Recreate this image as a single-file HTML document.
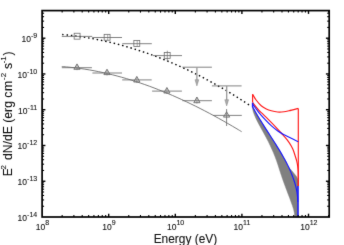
<!DOCTYPE html><html><head><meta charset="utf-8"><style>html,body{margin:0;padding:0;background:#fff;}body{width:344px;height:245px;overflow:hidden;position:relative;font-family:"Liberation Sans",sans-serif;}svg text{font-family:"Liberation Sans",sans-serif;}</style></head><body><svg width="344" height="245" viewBox="0 0 344 245" style="position:absolute;left:0;top:0;">
<rect x="0" y="0" width="344" height="245" fill="#fff"/>
<defs><filter id="b1" x="0" y="0" width="344" height="245" filterUnits="userSpaceOnUse" color-interpolation-filters="sRGB"><feConvolveMatrix order="3" kernelMatrix="0.01 0.065 0.01 0.065 0.7 0.065 0.01 0.065 0.01" divisor="1" edgeMode="duplicate" preserveAlpha="false"/></filter></defs><g filter="url(#b1)">
<rect x="0" y="0" width="344" height="245" fill="#fff"/>
<path d="M252.4,107.6 L253.2,111.4 L254.5,115.1 L256.2,118.9 L258.1,122.7 L260.1,126.4 L262.2,130.2 L264.3,134.0 L266.3,137.7 L268.3,141.5 L270.1,145.3 L271.8,149.0 L273.5,152.8 L275.0,156.6 L276.4,160.3 L277.7,164.1 L278.9,167.8 L280.1,171.6 L281.4,175.4 L282.6,179.1 L284.0,182.9 L285.4,186.7 L286.8,190.4 L288.2,194.2 L289.7,198.0 L291.0,201.7 L292.4,205.5 L293.6,209.3 L294.4,213.0 L294.8,216.8 L298.1,216.8 L298.1,180.0 L296.5,176.5 L292.0,171.0 L288.0,166.6 L286.4,162.5 L284.6,159.2 L282.8,155.9 L280.8,152.7 L278.9,149.4 L276.8,146.1 L274.8,142.8 L272.7,139.5 L270.6,136.2 L268.4,132.9 L266.3,129.6 L264.2,126.3 L262.1,123.0 L260.1,119.8 L258.1,116.5 L256.2,113.2 L254.3,109.9 L252.5,106.6Z" fill="#808080" stroke="#808080" stroke-width="0.5"/>
<path d="M61.80,66.54 C62.57,66.60 64.87,66.78 66.41,66.91 C67.95,67.05 69.48,67.20 71.02,67.36 C72.56,67.52 74.09,67.70 75.63,67.89 C77.17,68.07 78.70,68.28 80.24,68.49 C81.78,68.70 83.31,68.93 84.85,69.17 C86.39,69.41 87.92,69.66 89.46,69.92 C91.00,70.19 92.54,70.46 94.07,70.75 C95.61,71.04 97.15,71.34 98.68,71.66 C100.22,71.97 101.76,72.29 103.29,72.63 C104.83,72.97 106.37,73.32 107.90,73.68 C109.44,74.04 110.98,74.41 112.51,74.80 C114.05,75.18 115.59,75.58 117.12,75.99 C118.66,76.39 120.20,76.81 121.73,77.25 C123.27,77.68 124.81,78.12 126.34,78.57 C127.88,79.03 129.42,79.49 130.95,79.97 C132.49,80.44 134.03,80.93 135.56,81.43 C137.10,81.93 138.64,82.44 140.17,82.96 C141.71,83.48 143.25,84.01 144.78,84.55 C146.32,85.10 147.86,85.65 149.39,86.21 C150.93,86.78 152.47,87.35 154.01,87.93 C155.54,88.52 157.08,89.11 158.62,89.72 C160.15,90.32 161.69,90.94 163.23,91.57 C164.76,92.19 166.30,92.83 167.84,93.48 C169.37,94.12 170.91,94.78 172.45,95.44 C173.98,96.11 175.52,96.79 177.06,97.47 C178.59,98.16 180.13,98.85 181.67,99.56 C183.20,100.26 184.74,100.98 186.28,101.70 C187.81,102.43 189.35,103.16 190.89,103.91 C192.42,104.65 193.96,105.40 195.50,106.17 C197.03,106.93 198.57,107.70 200.11,108.48 C201.64,109.26 203.18,110.05 204.72,110.85 C206.25,111.65 207.79,112.45 209.33,113.27 C210.86,114.09 212.40,114.91 213.94,115.74 C215.48,116.58 217.01,117.42 218.55,118.27 C220.09,119.12 221.62,119.98 223.16,120.85 C224.70,121.72 226.23,122.59 227.77,123.48 C229.31,124.36 230.84,125.26 232.38,126.16 C233.92,127.06 235.45,127.97 236.99,128.88 C238.53,129.80 240.83,131.20 241.60,131.66" fill="none" stroke="#6a6a6a" stroke-width="0.9"/>
<path d="M62.20,34.49 C63.00,34.57 65.40,34.79 67.00,34.96 C68.60,35.13 70.20,35.31 71.79,35.50 C73.39,35.69 74.99,35.89 76.59,36.11 C78.19,36.32 79.79,36.55 81.39,36.79 C82.99,37.03 84.59,37.28 86.19,37.54 C87.79,37.80 89.39,38.08 90.98,38.36 C92.58,38.65 94.18,38.95 95.78,39.26 C97.38,39.56 98.98,39.89 100.58,40.22 C102.18,40.55 103.78,40.90 105.38,41.25 C106.98,41.61 108.58,41.98 110.17,42.36 C111.77,42.74 113.37,43.13 114.97,43.53 C116.57,43.93 118.17,44.35 119.77,44.78 C121.37,45.20 122.97,45.64 124.57,46.09 C126.17,46.54 127.76,47.01 129.36,47.48 C130.96,47.95 132.56,48.44 134.16,48.94 C135.76,49.43 137.36,49.94 138.96,50.46 C140.56,50.99 142.16,51.52 143.76,52.06 C145.36,52.61 146.95,53.16 148.55,53.73 C150.15,54.30 151.75,54.88 153.35,55.47 C154.95,56.06 156.55,56.67 158.15,57.28 C159.75,57.90 161.35,58.52 162.95,59.16 C164.55,59.80 166.14,60.45 167.74,61.11 C169.34,61.78 170.94,62.45 172.54,63.14 C174.14,63.82 175.74,64.52 177.34,65.23 C178.94,65.94 180.54,66.66 182.14,67.39 C183.74,68.13 185.33,68.87 186.93,69.63 C188.53,70.38 190.13,71.15 191.73,71.93 C193.33,72.71 194.93,73.50 196.53,74.31 C198.13,75.11 199.73,75.92 201.33,76.75 C202.92,77.58 204.52,78.42 206.12,79.27 C207.72,80.12 209.32,80.98 210.92,81.86 C212.52,82.73 214.12,83.62 215.72,84.51 C217.32,85.41 218.92,86.32 220.52,87.24 C222.11,88.16 223.71,89.10 225.31,90.04 C226.91,90.98 228.51,91.94 230.11,92.91 C231.71,93.88 233.31,94.86 234.91,95.85 C236.51,96.84 238.11,97.84 239.71,98.86 C241.30,99.88 242.90,100.90 244.50,101.94 C246.10,102.98 248.50,104.57 249.30,105.09" fill="none" stroke="#000" stroke-width="1.4" stroke-dasharray="1.5,2.85"/>
<line x1="61.8" y1="36.400000000000006" x2="92.2" y2="36.400000000000006" stroke="#6c6c6c" stroke-width="0.85"/>
<rect x="74.14999999999999" y="33.25" width="5.9" height="5.9" fill="none" stroke="#6c6c6c" stroke-width="0.8"/>
<line x1="92.2" y1="37.5" x2="122" y2="37.5" stroke="#6c6c6c" stroke-width="0.85"/>
<rect x="104.14999999999999" y="34.349999999999994" width="5.9" height="5.9" fill="none" stroke="#6c6c6c" stroke-width="0.8"/>
<line x1="107.7" y1="34.599999999999994" x2="107.7" y2="40.0" stroke="#6c6c6c" stroke-width="0.6"/>
<line x1="122.3" y1="43.7" x2="151.8" y2="43.7" stroke="#6c6c6c" stroke-width="0.85"/>
<rect x="133.85000000000002" y="40.55" width="5.9" height="5.9" fill="none" stroke="#6c6c6c" stroke-width="0.8"/>
<line x1="137.2" y1="40.8" x2="137.2" y2="46.2" stroke="#6c6c6c" stroke-width="0.6"/>
<line x1="153" y1="55.6" x2="182" y2="55.6" stroke="#6c6c6c" stroke-width="0.85"/>
<rect x="164.25" y="52.449999999999996" width="5.9" height="5.9" fill="none" stroke="#6c6c6c" stroke-width="0.8"/>
<line x1="167.3" y1="50.7" x2="167.3" y2="61.2" stroke="#6c6c6c" stroke-width="0.7"/>
<line x1="182.4" y1="67.2" x2="211.9" y2="67.2" stroke="#6c6c6c" stroke-width="0.85"/>
<line x1="196.9" y1="67.2" x2="196.9" y2="82.9" stroke="#999" stroke-width="1.3"/>
<path d="M195.0,79.7 L196.9,85.9 L198.8,79.7Z" fill="#aaa" stroke="#888" stroke-width="0.5"/>
<line x1="211.9" y1="85.9" x2="241.6" y2="85.9" stroke="#6c6c6c" stroke-width="0.85"/>
<line x1="226.7" y1="85.9" x2="226.7" y2="102.9" stroke="#999" stroke-width="1.3"/>
<path d="M224.79999999999998,99.7 L226.7,105.9 L228.6,99.7Z" fill="#aaa" stroke="#888" stroke-width="0.5"/>
<line x1="61.8" y1="67.7" x2="91.9" y2="67.7" stroke="#6c6c6c" stroke-width="0.85"/>
<line x1="77" y1="64.9" x2="77" y2="70.2" stroke="#6c6c6c" stroke-width="0.6"/>
<path d="M73.9,69.3 L77,63.9 L80.1,69.3Z" fill="#999" fill-opacity="0.3" stroke="#6c6c6c" stroke-width="0.9" stroke-linejoin="miter"/>
<line x1="92.4" y1="73.0" x2="122" y2="73.0" stroke="#6c6c6c" stroke-width="0.85"/>
<line x1="107" y1="70.2" x2="107" y2="75.5" stroke="#6c6c6c" stroke-width="0.6"/>
<path d="M103.9,74.6 L107,69.2 L110.1,74.6Z" fill="#999" fill-opacity="0.3" stroke="#6c6c6c" stroke-width="0.9" stroke-linejoin="miter"/>
<line x1="122.2" y1="79.9" x2="151.7" y2="79.9" stroke="#6c6c6c" stroke-width="0.85"/>
<line x1="136.8" y1="77.4" x2="136.8" y2="82.9" stroke="#6c6c6c" stroke-width="0.6"/>
<path d="M133.70000000000002,82 L136.8,76.4 L139.9,82Z" fill="#999" fill-opacity="0.3" stroke="#6c6c6c" stroke-width="0.9" stroke-linejoin="miter"/>
<line x1="152.1" y1="91.1" x2="181.9" y2="91.1" stroke="#6c6c6c" stroke-width="0.85"/>
<line x1="166.9" y1="88.5" x2="166.9" y2="93.9" stroke="#6c6c6c" stroke-width="0.6"/>
<path d="M163.8,93 L166.9,87.5 L170.0,93Z" fill="#999" fill-opacity="0.3" stroke="#6c6c6c" stroke-width="0.9" stroke-linejoin="miter"/>
<line x1="182.4" y1="100.7" x2="211.9" y2="100.7" stroke="#6c6c6c" stroke-width="0.85"/>
<line x1="196.9" y1="98" x2="196.9" y2="103.60000000000001" stroke="#6c6c6c" stroke-width="0.6"/>
<path d="M193.8,102.7 L196.9,97 L200.0,102.7Z" fill="#999" fill-opacity="0.3" stroke="#6c6c6c" stroke-width="0.9" stroke-linejoin="miter"/>
<line x1="213" y1="115.4" x2="241.8" y2="115.4" stroke="#6c6c6c" stroke-width="0.85"/>
<line x1="226.6" y1="109.1" x2="226.6" y2="126" stroke="#6c6c6c" stroke-width="0.85"/>
<path d="M223.5,117.1 L226.6,111.8 L229.7,117.1Z" fill="#999" fill-opacity="0.3" stroke="#6c6c6c" stroke-width="0.9" stroke-linejoin="miter"/>
<path d="M252.60,94.30 C253.18,95.25 254.67,98.10 256.10,100.00 C257.53,101.90 259.50,104.22 261.20,105.70 C262.90,107.18 264.62,108.05 266.30,108.90 C267.98,109.75 269.42,110.28 271.30,110.80 C273.18,111.32 275.48,111.83 277.60,112.00 C279.72,112.17 282.10,112.00 284.00,111.80 C285.90,111.60 286.62,111.37 289.00,110.80 C291.38,110.23 296.75,108.80 298.30,108.40" fill="none" stroke="#ff1a1a" stroke-width="1.15"/>
<path d="M252.60,102.60 C253.62,103.87 257.02,108.32 258.70,110.20 C260.38,112.08 260.98,112.23 262.70,113.90 C264.42,115.57 266.90,118.08 269.00,120.20 C271.10,122.32 273.20,124.38 275.30,126.60 C277.40,128.82 280.12,131.88 281.60,133.50 C283.08,135.12 282.97,134.83 284.20,136.30 C285.43,137.77 287.58,140.23 289.00,142.30 C290.42,144.37 291.72,146.58 292.70,148.70 C293.68,150.82 294.22,152.90 294.90,155.00 C295.58,157.10 296.33,159.40 296.80,161.30 C297.27,163.20 297.47,164.62 297.70,166.40 C297.93,168.18 298.10,168.73 298.20,172.00 C298.30,175.27 298.28,183.67 298.30,186.00" fill="none" stroke="#ff1a1a" stroke-width="1.15"/>
<path d="M252.6,94.3 L252.6,102.6 M298.3,108.4 L298.3,186" fill="none" stroke="#ff1a1a" stroke-width="1.15"/>
<path d="M252.60,104.00 C253.62,105.38 256.60,109.70 258.70,112.30 C260.80,114.90 263.07,117.33 265.20,119.60 C267.33,121.87 269.40,124.00 271.50,125.90 C273.60,127.80 275.68,129.52 277.80,131.00 C279.92,132.48 281.87,133.53 284.20,134.80 C286.53,136.07 289.45,137.45 291.80,138.60 C294.15,139.75 297.22,141.18 298.30,141.70" fill="none" stroke="#1a1aff" stroke-width="1.15"/>
<path d="M252.49,106.60 C252.79,107.15 253.68,108.79 254.29,109.89 C254.91,110.99 255.53,112.08 256.17,113.18 C256.81,114.28 257.45,115.37 258.11,116.47 C258.77,117.57 259.43,118.66 260.11,119.76 C260.78,120.86 261.46,121.95 262.15,123.05 C262.83,124.14 263.53,125.24 264.22,126.34 C264.92,127.43 265.62,128.53 266.32,129.63 C267.03,130.72 267.73,131.82 268.44,132.92 C269.14,134.01 269.85,135.11 270.55,136.21 C271.26,137.30 271.96,138.40 272.67,139.50 C273.37,140.59 274.07,141.69 274.76,142.79 C275.45,143.88 276.15,144.98 276.83,146.08 C277.51,147.17 278.19,148.27 278.86,149.37 C279.53,150.46 280.19,151.56 280.84,152.66 C281.50,153.75 282.14,154.85 282.77,155.94 C283.40,157.04 284.03,158.14 284.63,159.23 C285.23,160.33 285.80,161.43 286.36,162.52 C286.92,163.62 287.46,164.72 287.99,165.81 C288.52,166.91 289.03,168.01 289.52,169.10 C290.01,170.20 290.49,171.30 290.94,172.39 C291.40,173.49 291.83,174.59 292.26,175.68 C292.68,176.78 293.11,177.88 293.50,178.97 C293.89,180.07 294.26,181.17 294.60,182.26 C294.94,183.36 295.26,184.46 295.55,185.55 C295.84,186.65 296.11,187.74 296.34,188.84 C296.58,189.94 296.79,191.03 296.97,192.13 C297.14,193.23 297.29,194.32 297.41,195.42 C297.53,196.52 297.61,197.61 297.66,198.71 C297.71,199.81 297.71,201.45 297.72,202.00" fill="none" stroke="#1a1aff" stroke-width="1.15"/>
<path d="M252.6,102.8 L252.6,107 M298.0,186 L298.0,216.5" fill="none" stroke="#1a1aff" stroke-width="1.5"/>
<rect x="42.1" y="10.6" width="287.09999999999997" height="206.4" fill="none" stroke="#000" stroke-width="1.7"/>
<line x1="62.15" y1="217.0" x2="62.15" y2="215.0" stroke="#000" stroke-width="1.1"/>
<line x1="62.15" y1="10.6" x2="62.15" y2="12.6" stroke="#000" stroke-width="1.1"/>
<line x1="73.88" y1="217.0" x2="73.88" y2="215.0" stroke="#000" stroke-width="1.1"/>
<line x1="73.88" y1="10.6" x2="73.88" y2="12.6" stroke="#000" stroke-width="1.1"/>
<line x1="82.20" y1="217.0" x2="82.20" y2="215.0" stroke="#000" stroke-width="1.1"/>
<line x1="82.20" y1="10.6" x2="82.20" y2="12.6" stroke="#000" stroke-width="1.1"/>
<line x1="88.65" y1="217.0" x2="88.65" y2="215.0" stroke="#000" stroke-width="1.1"/>
<line x1="88.65" y1="10.6" x2="88.65" y2="12.6" stroke="#000" stroke-width="1.1"/>
<line x1="93.92" y1="217.0" x2="93.92" y2="215.0" stroke="#000" stroke-width="1.1"/>
<line x1="93.92" y1="10.6" x2="93.92" y2="12.6" stroke="#000" stroke-width="1.1"/>
<line x1="98.38" y1="217.0" x2="98.38" y2="215.0" stroke="#000" stroke-width="1.1"/>
<line x1="98.38" y1="10.6" x2="98.38" y2="12.6" stroke="#000" stroke-width="1.1"/>
<line x1="102.25" y1="217.0" x2="102.25" y2="215.0" stroke="#000" stroke-width="1.1"/>
<line x1="102.25" y1="10.6" x2="102.25" y2="12.6" stroke="#000" stroke-width="1.1"/>
<line x1="105.65" y1="217.0" x2="105.65" y2="215.0" stroke="#000" stroke-width="1.1"/>
<line x1="105.65" y1="10.6" x2="105.65" y2="12.6" stroke="#000" stroke-width="1.1"/>
<line x1="108.70" y1="217.0" x2="108.70" y2="213.7" stroke="#000" stroke-width="1.4"/>
<line x1="108.70" y1="10.6" x2="108.70" y2="13.899999999999999" stroke="#000" stroke-width="1.4"/>
<line x1="128.75" y1="217.0" x2="128.75" y2="215.0" stroke="#000" stroke-width="1.1"/>
<line x1="128.75" y1="10.6" x2="128.75" y2="12.6" stroke="#000" stroke-width="1.1"/>
<line x1="140.48" y1="217.0" x2="140.48" y2="215.0" stroke="#000" stroke-width="1.1"/>
<line x1="140.48" y1="10.6" x2="140.48" y2="12.6" stroke="#000" stroke-width="1.1"/>
<line x1="148.80" y1="217.0" x2="148.80" y2="215.0" stroke="#000" stroke-width="1.1"/>
<line x1="148.80" y1="10.6" x2="148.80" y2="12.6" stroke="#000" stroke-width="1.1"/>
<line x1="155.25" y1="217.0" x2="155.25" y2="215.0" stroke="#000" stroke-width="1.1"/>
<line x1="155.25" y1="10.6" x2="155.25" y2="12.6" stroke="#000" stroke-width="1.1"/>
<line x1="160.52" y1="217.0" x2="160.52" y2="215.0" stroke="#000" stroke-width="1.1"/>
<line x1="160.52" y1="10.6" x2="160.52" y2="12.6" stroke="#000" stroke-width="1.1"/>
<line x1="164.98" y1="217.0" x2="164.98" y2="215.0" stroke="#000" stroke-width="1.1"/>
<line x1="164.98" y1="10.6" x2="164.98" y2="12.6" stroke="#000" stroke-width="1.1"/>
<line x1="168.85" y1="217.0" x2="168.85" y2="215.0" stroke="#000" stroke-width="1.1"/>
<line x1="168.85" y1="10.6" x2="168.85" y2="12.6" stroke="#000" stroke-width="1.1"/>
<line x1="172.25" y1="217.0" x2="172.25" y2="215.0" stroke="#000" stroke-width="1.1"/>
<line x1="172.25" y1="10.6" x2="172.25" y2="12.6" stroke="#000" stroke-width="1.1"/>
<line x1="175.30" y1="217.0" x2="175.30" y2="213.7" stroke="#000" stroke-width="1.4"/>
<line x1="175.30" y1="10.6" x2="175.30" y2="13.899999999999999" stroke="#000" stroke-width="1.4"/>
<line x1="195.35" y1="217.0" x2="195.35" y2="215.0" stroke="#000" stroke-width="1.1"/>
<line x1="195.35" y1="10.6" x2="195.35" y2="12.6" stroke="#000" stroke-width="1.1"/>
<line x1="207.08" y1="217.0" x2="207.08" y2="215.0" stroke="#000" stroke-width="1.1"/>
<line x1="207.08" y1="10.6" x2="207.08" y2="12.6" stroke="#000" stroke-width="1.1"/>
<line x1="215.40" y1="217.0" x2="215.40" y2="215.0" stroke="#000" stroke-width="1.1"/>
<line x1="215.40" y1="10.6" x2="215.40" y2="12.6" stroke="#000" stroke-width="1.1"/>
<line x1="221.85" y1="217.0" x2="221.85" y2="215.0" stroke="#000" stroke-width="1.1"/>
<line x1="221.85" y1="10.6" x2="221.85" y2="12.6" stroke="#000" stroke-width="1.1"/>
<line x1="227.12" y1="217.0" x2="227.12" y2="215.0" stroke="#000" stroke-width="1.1"/>
<line x1="227.12" y1="10.6" x2="227.12" y2="12.6" stroke="#000" stroke-width="1.1"/>
<line x1="231.58" y1="217.0" x2="231.58" y2="215.0" stroke="#000" stroke-width="1.1"/>
<line x1="231.58" y1="10.6" x2="231.58" y2="12.6" stroke="#000" stroke-width="1.1"/>
<line x1="235.45" y1="217.0" x2="235.45" y2="215.0" stroke="#000" stroke-width="1.1"/>
<line x1="235.45" y1="10.6" x2="235.45" y2="12.6" stroke="#000" stroke-width="1.1"/>
<line x1="238.85" y1="217.0" x2="238.85" y2="215.0" stroke="#000" stroke-width="1.1"/>
<line x1="238.85" y1="10.6" x2="238.85" y2="12.6" stroke="#000" stroke-width="1.1"/>
<line x1="241.90" y1="217.0" x2="241.90" y2="213.7" stroke="#000" stroke-width="1.4"/>
<line x1="241.90" y1="10.6" x2="241.90" y2="13.899999999999999" stroke="#000" stroke-width="1.4"/>
<line x1="261.95" y1="217.0" x2="261.95" y2="215.0" stroke="#000" stroke-width="1.1"/>
<line x1="261.95" y1="10.6" x2="261.95" y2="12.6" stroke="#000" stroke-width="1.1"/>
<line x1="273.68" y1="217.0" x2="273.68" y2="215.0" stroke="#000" stroke-width="1.1"/>
<line x1="273.68" y1="10.6" x2="273.68" y2="12.6" stroke="#000" stroke-width="1.1"/>
<line x1="282.00" y1="217.0" x2="282.00" y2="215.0" stroke="#000" stroke-width="1.1"/>
<line x1="282.00" y1="10.6" x2="282.00" y2="12.6" stroke="#000" stroke-width="1.1"/>
<line x1="288.45" y1="217.0" x2="288.45" y2="215.0" stroke="#000" stroke-width="1.1"/>
<line x1="288.45" y1="10.6" x2="288.45" y2="12.6" stroke="#000" stroke-width="1.1"/>
<line x1="293.72" y1="217.0" x2="293.72" y2="215.0" stroke="#000" stroke-width="1.1"/>
<line x1="293.72" y1="10.6" x2="293.72" y2="12.6" stroke="#000" stroke-width="1.1"/>
<line x1="298.18" y1="217.0" x2="298.18" y2="215.0" stroke="#000" stroke-width="1.1"/>
<line x1="298.18" y1="10.6" x2="298.18" y2="12.6" stroke="#000" stroke-width="1.1"/>
<line x1="302.05" y1="217.0" x2="302.05" y2="215.0" stroke="#000" stroke-width="1.1"/>
<line x1="302.05" y1="10.6" x2="302.05" y2="12.6" stroke="#000" stroke-width="1.1"/>
<line x1="305.45" y1="217.0" x2="305.45" y2="215.0" stroke="#000" stroke-width="1.1"/>
<line x1="305.45" y1="10.6" x2="305.45" y2="12.6" stroke="#000" stroke-width="1.1"/>
<line x1="308.50" y1="217.0" x2="308.50" y2="213.7" stroke="#000" stroke-width="1.4"/>
<line x1="308.50" y1="10.6" x2="308.50" y2="13.899999999999999" stroke="#000" stroke-width="1.4"/>
<line x1="328.55" y1="217.0" x2="328.55" y2="215.0" stroke="#000" stroke-width="1.1"/>
<line x1="328.55" y1="10.6" x2="328.55" y2="12.6" stroke="#000" stroke-width="1.1"/>
<line x1="42.1" y1="206.24" x2="44.1" y2="206.24" stroke="#000" stroke-width="1.1"/>
<line x1="329.2" y1="206.24" x2="327.2" y2="206.24" stroke="#000" stroke-width="1.1"/>
<line x1="42.1" y1="199.94" x2="44.1" y2="199.94" stroke="#000" stroke-width="1.1"/>
<line x1="329.2" y1="199.94" x2="327.2" y2="199.94" stroke="#000" stroke-width="1.1"/>
<line x1="42.1" y1="195.47" x2="44.1" y2="195.47" stroke="#000" stroke-width="1.1"/>
<line x1="329.2" y1="195.47" x2="327.2" y2="195.47" stroke="#000" stroke-width="1.1"/>
<line x1="42.1" y1="192.00" x2="44.1" y2="192.00" stroke="#000" stroke-width="1.1"/>
<line x1="329.2" y1="192.00" x2="327.2" y2="192.00" stroke="#000" stroke-width="1.1"/>
<line x1="42.1" y1="189.17" x2="44.1" y2="189.17" stroke="#000" stroke-width="1.1"/>
<line x1="329.2" y1="189.17" x2="327.2" y2="189.17" stroke="#000" stroke-width="1.1"/>
<line x1="42.1" y1="186.78" x2="44.1" y2="186.78" stroke="#000" stroke-width="1.1"/>
<line x1="329.2" y1="186.78" x2="327.2" y2="186.78" stroke="#000" stroke-width="1.1"/>
<line x1="42.1" y1="184.71" x2="44.1" y2="184.71" stroke="#000" stroke-width="1.1"/>
<line x1="329.2" y1="184.71" x2="327.2" y2="184.71" stroke="#000" stroke-width="1.1"/>
<line x1="42.1" y1="182.88" x2="44.1" y2="182.88" stroke="#000" stroke-width="1.1"/>
<line x1="329.2" y1="182.88" x2="327.2" y2="182.88" stroke="#000" stroke-width="1.1"/>
<line x1="42.1" y1="181.24" x2="45.4" y2="181.24" stroke="#000" stroke-width="1.4"/>
<line x1="329.2" y1="181.24" x2="325.9" y2="181.24" stroke="#000" stroke-width="1.4"/>
<line x1="42.1" y1="170.48" x2="44.1" y2="170.48" stroke="#000" stroke-width="1.1"/>
<line x1="329.2" y1="170.48" x2="327.2" y2="170.48" stroke="#000" stroke-width="1.1"/>
<line x1="42.1" y1="164.18" x2="44.1" y2="164.18" stroke="#000" stroke-width="1.1"/>
<line x1="329.2" y1="164.18" x2="327.2" y2="164.18" stroke="#000" stroke-width="1.1"/>
<line x1="42.1" y1="159.71" x2="44.1" y2="159.71" stroke="#000" stroke-width="1.1"/>
<line x1="329.2" y1="159.71" x2="327.2" y2="159.71" stroke="#000" stroke-width="1.1"/>
<line x1="42.1" y1="156.24" x2="44.1" y2="156.24" stroke="#000" stroke-width="1.1"/>
<line x1="329.2" y1="156.24" x2="327.2" y2="156.24" stroke="#000" stroke-width="1.1"/>
<line x1="42.1" y1="153.41" x2="44.1" y2="153.41" stroke="#000" stroke-width="1.1"/>
<line x1="329.2" y1="153.41" x2="327.2" y2="153.41" stroke="#000" stroke-width="1.1"/>
<line x1="42.1" y1="151.02" x2="44.1" y2="151.02" stroke="#000" stroke-width="1.1"/>
<line x1="329.2" y1="151.02" x2="327.2" y2="151.02" stroke="#000" stroke-width="1.1"/>
<line x1="42.1" y1="148.95" x2="44.1" y2="148.95" stroke="#000" stroke-width="1.1"/>
<line x1="329.2" y1="148.95" x2="327.2" y2="148.95" stroke="#000" stroke-width="1.1"/>
<line x1="42.1" y1="147.12" x2="44.1" y2="147.12" stroke="#000" stroke-width="1.1"/>
<line x1="329.2" y1="147.12" x2="327.2" y2="147.12" stroke="#000" stroke-width="1.1"/>
<line x1="42.1" y1="145.48" x2="45.4" y2="145.48" stroke="#000" stroke-width="1.4"/>
<line x1="329.2" y1="145.48" x2="325.9" y2="145.48" stroke="#000" stroke-width="1.4"/>
<line x1="42.1" y1="134.72" x2="44.1" y2="134.72" stroke="#000" stroke-width="1.1"/>
<line x1="329.2" y1="134.72" x2="327.2" y2="134.72" stroke="#000" stroke-width="1.1"/>
<line x1="42.1" y1="128.42" x2="44.1" y2="128.42" stroke="#000" stroke-width="1.1"/>
<line x1="329.2" y1="128.42" x2="327.2" y2="128.42" stroke="#000" stroke-width="1.1"/>
<line x1="42.1" y1="123.95" x2="44.1" y2="123.95" stroke="#000" stroke-width="1.1"/>
<line x1="329.2" y1="123.95" x2="327.2" y2="123.95" stroke="#000" stroke-width="1.1"/>
<line x1="42.1" y1="120.48" x2="44.1" y2="120.48" stroke="#000" stroke-width="1.1"/>
<line x1="329.2" y1="120.48" x2="327.2" y2="120.48" stroke="#000" stroke-width="1.1"/>
<line x1="42.1" y1="117.65" x2="44.1" y2="117.65" stroke="#000" stroke-width="1.1"/>
<line x1="329.2" y1="117.65" x2="327.2" y2="117.65" stroke="#000" stroke-width="1.1"/>
<line x1="42.1" y1="115.26" x2="44.1" y2="115.26" stroke="#000" stroke-width="1.1"/>
<line x1="329.2" y1="115.26" x2="327.2" y2="115.26" stroke="#000" stroke-width="1.1"/>
<line x1="42.1" y1="113.19" x2="44.1" y2="113.19" stroke="#000" stroke-width="1.1"/>
<line x1="329.2" y1="113.19" x2="327.2" y2="113.19" stroke="#000" stroke-width="1.1"/>
<line x1="42.1" y1="111.36" x2="44.1" y2="111.36" stroke="#000" stroke-width="1.1"/>
<line x1="329.2" y1="111.36" x2="327.2" y2="111.36" stroke="#000" stroke-width="1.1"/>
<line x1="42.1" y1="109.72" x2="45.4" y2="109.72" stroke="#000" stroke-width="1.4"/>
<line x1="329.2" y1="109.72" x2="325.9" y2="109.72" stroke="#000" stroke-width="1.4"/>
<line x1="42.1" y1="98.96" x2="44.1" y2="98.96" stroke="#000" stroke-width="1.1"/>
<line x1="329.2" y1="98.96" x2="327.2" y2="98.96" stroke="#000" stroke-width="1.1"/>
<line x1="42.1" y1="92.66" x2="44.1" y2="92.66" stroke="#000" stroke-width="1.1"/>
<line x1="329.2" y1="92.66" x2="327.2" y2="92.66" stroke="#000" stroke-width="1.1"/>
<line x1="42.1" y1="88.19" x2="44.1" y2="88.19" stroke="#000" stroke-width="1.1"/>
<line x1="329.2" y1="88.19" x2="327.2" y2="88.19" stroke="#000" stroke-width="1.1"/>
<line x1="42.1" y1="84.72" x2="44.1" y2="84.72" stroke="#000" stroke-width="1.1"/>
<line x1="329.2" y1="84.72" x2="327.2" y2="84.72" stroke="#000" stroke-width="1.1"/>
<line x1="42.1" y1="81.89" x2="44.1" y2="81.89" stroke="#000" stroke-width="1.1"/>
<line x1="329.2" y1="81.89" x2="327.2" y2="81.89" stroke="#000" stroke-width="1.1"/>
<line x1="42.1" y1="79.50" x2="44.1" y2="79.50" stroke="#000" stroke-width="1.1"/>
<line x1="329.2" y1="79.50" x2="327.2" y2="79.50" stroke="#000" stroke-width="1.1"/>
<line x1="42.1" y1="77.43" x2="44.1" y2="77.43" stroke="#000" stroke-width="1.1"/>
<line x1="329.2" y1="77.43" x2="327.2" y2="77.43" stroke="#000" stroke-width="1.1"/>
<line x1="42.1" y1="75.60" x2="44.1" y2="75.60" stroke="#000" stroke-width="1.1"/>
<line x1="329.2" y1="75.60" x2="327.2" y2="75.60" stroke="#000" stroke-width="1.1"/>
<line x1="42.1" y1="73.96" x2="45.4" y2="73.96" stroke="#000" stroke-width="1.4"/>
<line x1="329.2" y1="73.96" x2="325.9" y2="73.96" stroke="#000" stroke-width="1.4"/>
<line x1="42.1" y1="63.20" x2="44.1" y2="63.20" stroke="#000" stroke-width="1.1"/>
<line x1="329.2" y1="63.20" x2="327.2" y2="63.20" stroke="#000" stroke-width="1.1"/>
<line x1="42.1" y1="56.90" x2="44.1" y2="56.90" stroke="#000" stroke-width="1.1"/>
<line x1="329.2" y1="56.90" x2="327.2" y2="56.90" stroke="#000" stroke-width="1.1"/>
<line x1="42.1" y1="52.43" x2="44.1" y2="52.43" stroke="#000" stroke-width="1.1"/>
<line x1="329.2" y1="52.43" x2="327.2" y2="52.43" stroke="#000" stroke-width="1.1"/>
<line x1="42.1" y1="48.96" x2="44.1" y2="48.96" stroke="#000" stroke-width="1.1"/>
<line x1="329.2" y1="48.96" x2="327.2" y2="48.96" stroke="#000" stroke-width="1.1"/>
<line x1="42.1" y1="46.13" x2="44.1" y2="46.13" stroke="#000" stroke-width="1.1"/>
<line x1="329.2" y1="46.13" x2="327.2" y2="46.13" stroke="#000" stroke-width="1.1"/>
<line x1="42.1" y1="43.74" x2="44.1" y2="43.74" stroke="#000" stroke-width="1.1"/>
<line x1="329.2" y1="43.74" x2="327.2" y2="43.74" stroke="#000" stroke-width="1.1"/>
<line x1="42.1" y1="41.67" x2="44.1" y2="41.67" stroke="#000" stroke-width="1.1"/>
<line x1="329.2" y1="41.67" x2="327.2" y2="41.67" stroke="#000" stroke-width="1.1"/>
<line x1="42.1" y1="39.84" x2="44.1" y2="39.84" stroke="#000" stroke-width="1.1"/>
<line x1="329.2" y1="39.84" x2="327.2" y2="39.84" stroke="#000" stroke-width="1.1"/>
<line x1="42.1" y1="38.20" x2="45.4" y2="38.20" stroke="#000" stroke-width="1.4"/>
<line x1="329.2" y1="38.20" x2="325.9" y2="38.20" stroke="#000" stroke-width="1.4"/>
<line x1="42.1" y1="27.44" x2="44.1" y2="27.44" stroke="#000" stroke-width="1.1"/>
<line x1="329.2" y1="27.44" x2="327.2" y2="27.44" stroke="#000" stroke-width="1.1"/>
<line x1="42.1" y1="21.14" x2="44.1" y2="21.14" stroke="#000" stroke-width="1.1"/>
<line x1="329.2" y1="21.14" x2="327.2" y2="21.14" stroke="#000" stroke-width="1.1"/>
<line x1="42.1" y1="16.67" x2="44.1" y2="16.67" stroke="#000" stroke-width="1.1"/>
<line x1="329.2" y1="16.67" x2="327.2" y2="16.67" stroke="#000" stroke-width="1.1"/>
<line x1="42.1" y1="13.20" x2="44.1" y2="13.20" stroke="#000" stroke-width="1.1"/>
<line x1="329.2" y1="13.20" x2="327.2" y2="13.20" stroke="#000" stroke-width="1.1"/>
</g></svg>
<svg width="344" height="245" viewBox="0 0 344 245" style="position:absolute;left:0;top:0;filter:grayscale(1)">
<defs><filter id="b2" x="0" y="0" width="344" height="245" filterUnits="userSpaceOnUse" color-interpolation-filters="sRGB"><feConvolveMatrix order="3" kernelMatrix="0.01 0.065 0.01 0.065 0.7 0.065 0.01 0.065 0.01" divisor="1" edgeMode="duplicate" preserveAlpha="false"/></filter></defs><g filter="url(#b2)" stroke="#111" stroke-width="0.1">
<text x="35.73" y="229.85" font-size="8.5" fill="#111">10<tspan dy="-4.5" font-size="7.0">8</tspan></text>
<text x="102.33" y="229.85" font-size="8.5" fill="#111">10<tspan dy="-4.5" font-size="7.0">9</tspan></text>
<text x="166.98" y="229.85" font-size="8.5" fill="#111">10<tspan dy="-4.5" font-size="7.0">10</tspan></text>
<text x="233.58" y="229.85" font-size="8.5" fill="#111">10<tspan dy="-4.5" font-size="7.0">11</tspan></text>
<text x="300.18" y="229.85" font-size="8.5" fill="#111">10<tspan dy="-4.5" font-size="7.0">12</tspan></text>
<text x="37.2" y="221.00" font-size="8.5" fill="#111" text-anchor="end">10<tspan dy="-4.0" font-size="7.0">-14</tspan></text>
<text x="37.2" y="185.24" font-size="8.5" fill="#111" text-anchor="end">10<tspan dy="-4.0" font-size="7.0">-13</tspan></text>
<text x="37.2" y="149.48" font-size="8.5" fill="#111" text-anchor="end">10<tspan dy="-4.0" font-size="7.0">-12</tspan></text>
<text x="37.2" y="113.72" font-size="8.5" fill="#111" text-anchor="end">10<tspan dy="-4.0" font-size="7.0">-11</tspan></text>
<text x="37.2" y="77.96" font-size="8.5" fill="#111" text-anchor="end">10<tspan dy="-4.0" font-size="7.0">-10</tspan></text>
<text x="37.2" y="42.20" font-size="8.5" fill="#111" text-anchor="end">10<tspan dy="-4.0" font-size="7.0">-9</tspan></text>
<text x="153.7" y="242.8" font-size="11.9" fill="#111">Energy (eV)</text>
<text transform="translate(12.0,176.3) rotate(-90)" font-size="12" letter-spacing="0" fill="#111">E</text>
<text transform="translate(6.0,169.4) rotate(-90)" font-size="8" letter-spacing="0" fill="#111">2</text>
<text transform="translate(12.0,160.0) rotate(-90)" font-size="12.2" letter-spacing="0" fill="#111">dN/dE (erg</text>
<text transform="translate(12.0,97.7) rotate(-90)" font-size="12.2" letter-spacing="0.6" fill="#111">cm</text>
<text transform="translate(6.0,80.0) rotate(-90)" font-size="8" letter-spacing="0" fill="#111">-2</text>
<text transform="translate(12.0,69.0) rotate(-90)" font-size="12.2" letter-spacing="0" fill="#111">s</text>
<text transform="translate(6.0,63.3) rotate(-90)" font-size="8" letter-spacing="0" fill="#111">-1</text>
<text transform="translate(12.0,55.5) rotate(-90)" font-size="12.2" letter-spacing="0" fill="#111">)</text>
</g></svg></body></html>
